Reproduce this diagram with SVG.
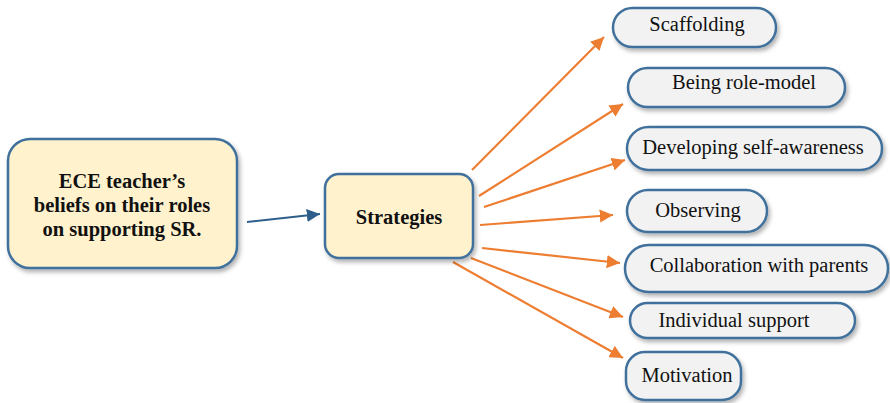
<svg xmlns="http://www.w3.org/2000/svg" width="890" height="403" viewBox="0 0 890 403">
<defs>
<filter id="sh" x="-10%" y="-20%" width="130%" height="150%">
<feDropShadow dx="2" dy="3" stdDeviation="2" flood-color="#000" flood-opacity="0.3"/>
</filter>
<marker id="ao" viewBox="0 0 10 10" refX="10" refY="5" markerWidth="6" markerHeight="6" markerUnits="strokeWidth" orient="auto">
<path d="M0,0 L10,5 L0,10 z" fill="#ED7D31"/>
</marker>
<marker id="ab" viewBox="0 0 10 10" refX="10" refY="5" markerWidth="6" markerHeight="6" markerUnits="strokeWidth" orient="auto">
<path d="M0,0 L10,5 L0,10 z" fill="#2E5F8A"/>
</marker>
</defs>
<style>
.box{fill:#FFF2CC;stroke:#41719C;stroke-width:2.5;filter:url(#sh)}
.pill{fill:#F2F2F2;stroke:#41719C;stroke-width:2.5;filter:url(#sh)}
.bt{font-family:"Liberation Serif",serif;font-weight:bold;font-size:20.5px;fill:#111;text-anchor:middle}
.pt{font-family:"Liberation Serif",serif;font-size:20.5px;fill:#111;text-anchor:middle}
.oc{stroke:#ED7D31;stroke-width:2.2;fill:none;marker-end:url(#ao)}
.bc{stroke:#2E5F8A;stroke-width:2.2;fill:none;marker-end:url(#ab)}
</style>
<g id="connectors">
<line class="bc" x1="247" y1="222" x2="320" y2="214"/>
<line class="oc" x1="472" y1="170" x2="604" y2="37"/>
<line class="oc" x1="479" y1="196" x2="623" y2="104"/>
<line class="oc" x1="484" y1="207" x2="625" y2="160"/>
<line class="oc" x1="480" y1="225" x2="613" y2="215"/>
<line class="oc" x1="482" y1="248" x2="620" y2="263"/>
<line class="oc" x1="471" y1="258" x2="623" y2="317"/>
<line class="oc" x1="453" y1="262" x2="623" y2="358"/>
</g>
<g id="node-beliefs">
<rect class="box" x="8" y="139" width="229" height="129" rx="22"/>
<text class="bt" x="122" y="188">ECE teacher’s</text>
<text class="bt" x="122" y="212">beliefs on their roles</text>
<text class="bt" x="122" y="236">on supporting SR.</text>
</g>
<g id="node-strategies">
<rect class="box" x="325" y="174" width="148" height="84" rx="14"/>
<text class="bt" x="399" y="224">Strategies</text>
</g>
<g id="node-scaffolding">
<rect class="pill" x="613" y="8" width="163" height="39" rx="19.5"/>
<text class="pt" x="697" y="31">Scaffolding</text>
</g>
<g id="node-role-model">
<rect class="pill" x="628" y="68" width="217" height="39" rx="19.5"/>
<text class="pt" x="744" y="89">Being role-model</text>
</g>
<g id="node-self-awareness">
<rect class="pill" x="627" y="127" width="255" height="43" rx="21.5"/>
<text class="pt" x="753" y="154">Developing self-awareness</text>
</g>
<g id="node-observing">
<rect class="pill" x="627" y="190" width="140" height="42" rx="21"/>
<text class="pt" x="698" y="217">Observing</text>
</g>
<g id="node-collaboration">
<rect class="pill" x="625" y="245" width="263" height="47" rx="23.5"/>
<text class="pt" x="759" y="272">Collaboration with parents</text>
</g>
<g id="node-individual">
<rect class="pill" x="630" y="303" width="225" height="35" rx="17.5"/>
<text class="pt" x="734" y="327">Individual support</text>
</g>
<g id="node-motivation">
<rect class="pill" x="626" y="352" width="115" height="48" rx="19"/>
<text class="pt" x="687" y="382">Motivation</text>
</g>
</svg>
